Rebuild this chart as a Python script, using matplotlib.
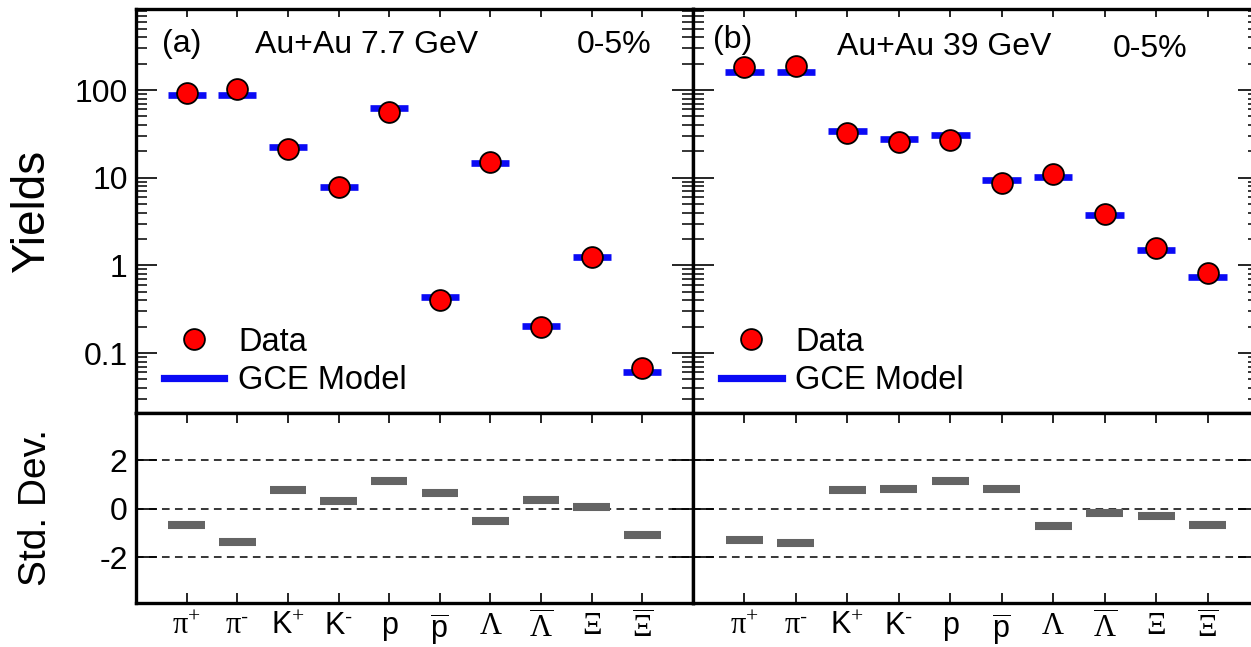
import matplotlib
matplotlib.use("Agg")
import matplotlib.pyplot as plt
from matplotlib.lines import Line2D
import numpy as np

plt.rcParams['font.family'] = ['Liberation Sans', 'DejaVu Sans']
plt.rcParams['mathtext.fontset'] = 'custom'
plt.rcParams['mathtext.rm'] = 'Liberation Serif'
plt.rcParams['mathtext.it'] = 'Liberation Serif:italic'
plt.rcParams['mathtext.bf'] = 'Liberation Serif:bold'
plt.rcParams['mathtext.sf'] = 'Liberation Sans'

# ---------------- data ----------------
particles = [r'$\mathrm{\pi}^{+}$', r'$\mathrm{\pi}^{\mathsf{‐}}$', r'K$^{+}$', r'K$^{\mathsf{‐}}$', 'p',
             r'$\overline{\mathsf{p}}$', r'$\Lambda$', r'$\overline{\Lambda}$',
             r'$\Xi$', r'$\overline{\Xi}$']

data_77 = [93, 102, 21.1, 7.8, 55.7, 0.40, 15.1, 0.197, 1.26, 0.067]
model_77 = [88, 88, 22.4, 7.9, 62.9, 0.44, 14.6, 0.206, 1.25, 0.060]
dev_77 = [-0.69, -1.38, 0.76, 0.32, 1.16, 0.66, -0.50, 0.34, 0.05, -1.07]

data_39 = [184, 189, 32.6, 25.8, 26.9, 8.6, 10.9, 3.86, 1.57, 0.81]
model_39 = [162, 162, 34.4, 27.4, 30.7, 9.4, 10.3, 3.76, 1.50, 0.74]
dev_39 = [-1.28, -1.43, 0.76, 0.80, 1.16, 0.83, -0.72, -0.19, -0.30, -0.69]

energies = ['Au+Au 7.7 GeV', 'Au+Au 39 GeV']
panel_tags = ['(a)', '(b)']
centrality = '0-5%'

# ---------------- figure ----------------
W, H = 1251, 647
fig = plt.figure(figsize=(W / 100, H / 100), dpi=100)

def fx(px):
    return px / W

def fy(py):
    return 1 - py / H

top_y0, top_y1 = 9, 413
bot_y0, bot_y1 = 413, 603
left_x = [136, 693]
right_x = [693, 1259]

blue = '#0a0af5'
gray = '#646464'
FS = 23
x = np.arange(len(particles))

tag_pos = [(0.047, 0.893), (0.035, 0.903)]
energy_pos = [(0.213, 0.891), (0.254, 0.886)]
cent_pos = [(0.791, 0.891), (0.742, 0.881)]

for k in range(2):
    xa, xb = left_x[k], right_x[k]
    ax = fig.add_axes([fx(xa), fy(top_y1), fx(xb - xa), (top_y1 - top_y0) / H])
    axd = fig.add_axes([fx(xa), fy(bot_y1), fx(xb - xa), (bot_y1 - bot_y0) / H])

    dat = data_77 if k == 0 else data_39
    mod = model_77 if k == 0 else model_39
    dev = dev_77 if k == 0 else dev_39

    ax.hlines(mod, x - 0.375, x + 0.375, colors=blue, lw=4.8, zorder=2)
    ax.plot(x, dat, 'o', ms=15, mfc='#ff0000', mec='black', mew=1.3, zorder=3)
    ax.set_yscale('log')
    ax.set_ylim(0.0207, 840)
    ax.set_xlim(-1, 10)
    ax.set_xticks(x)
    ax.tick_params(axis='x', which='both', direction='in', top=True, bottom=False,
                   labelbottom=False, length=6, width=1.2)
    ax.tick_params(axis='y', which='major', direction='in', left=True, right=True,
                   length=15, width=1.2, labelsize=FS, pad=6)
    ax.tick_params(axis='y', which='minor', direction='in', left=True, right=True,
                   length=8, width=1.1)
    ax.set_yticks([0.1, 1, 10, 100])
    ax.set_yticklabels(['0.1', '1', '10', '100'])
    if k == 1:
        ax.tick_params(axis='y', which='both', labelleft=False)
    for s in ax.spines.values():
        s.set_linewidth(2.4)

    ax.text(*tag_pos[k], panel_tags[k], transform=ax.transAxes, fontsize=FS,
            ha='left', va='baseline')
    ax.text(*energy_pos[k], energies[k], transform=ax.transAxes, fontsize=FS,
            ha='left', va='baseline')
    ax.text(*cent_pos[k], centrality, transform=ax.transAxes, fontsize=FS,
            ha='left', va='baseline')

    handles = [Line2D([], [], ls='none', marker='o', ms=15, mfc='#ff0000',
                      mec='black', mew=1.3),
               Line2D([], [], color=blue, lw=5.2)]
    ax.legend(handles, ['Data', 'GCE Model'], loc='lower left',
              bbox_to_anchor=(0.05, 0.042), borderaxespad=0, borderpad=0,
              frameon=False, fontsize=23.5, handlelength=1.85, handletextpad=0.42,
              labelspacing=0.22, numpoints=1)

    # deviations
    axd.hlines(dev, x - 0.36, x + 0.36, colors=gray, lw=5.8, zorder=2)
    for v in (-2, 0, 2):
        axd.axhline(v, color='black', lw=1.1, ls=(0, (5, 3.5)), zorder=1)
    axd.set_xlim(-1, 10)
    axd.set_ylim(-3.9, 3.95)
    axd.set_xticks(x)
    axd.set_xticklabels(particles)
    axd.tick_params(axis='x', direction='in', top=True, bottom=True, length=7,
                    width=1.2, labelsize=22, pad=6)
    axd.set_yticks([-2, 0, 2])
    axd.set_yticklabels(['-2', '0', '2'])
    axd.tick_params(axis='y', direction='in', left=True, right=True, length=15,
                    width=1.2, labelsize=FS, pad=6)
    if k == 1:
        axd.tick_params(axis='y', labelleft=False)
    for s in axd.spines.values():
        s.set_linewidth(2.4)

fig.text(fx(32), fy(211), 'Yields', rotation=90, fontsize=33, ha='center', va='center')
fig.text(fx(36), fy(507), 'Std. Dev.', rotation=90, fontsize=28, ha='center', va='center')

fig.savefig('out.png', dpi=100)
